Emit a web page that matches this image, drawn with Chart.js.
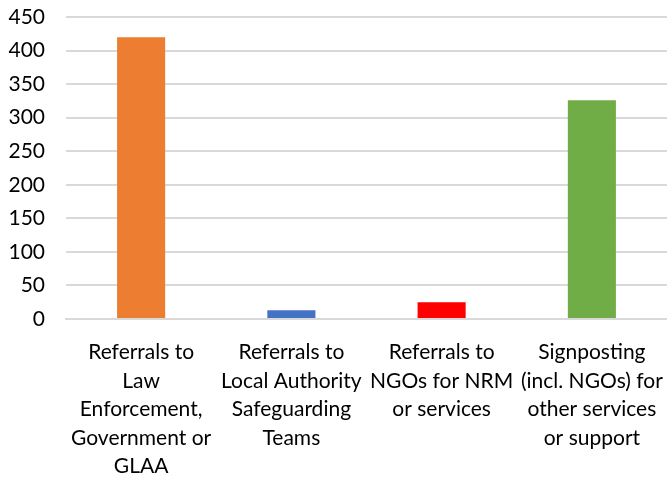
<!DOCTYPE html>
<html>
<head>
<meta charset="utf-8">
<script src="https://cdn.jsdelivr.net/npm/chart.js@4/dist/chart.umd.min.js"></script>
<style>
  html, body { margin: 0; padding: 0; background: #fff; }
  #wrap { width: 667px; height: 479px; }
</style>
</head>
<body>
<div id="wrap"><canvas id="chart"></canvas></div>
<script>
// categories (multi-line labels as shown under each bar)
const categories = [
  ['Referrals to', 'Law', 'Enforcement,', 'Government or', 'GLAA'],
  ['Referrals to', 'Local Authority', 'Safeguarding', 'Teams'],
  ['Referrals to', 'NGOs for NRM', 'or services'],
  ['Signposting', '(incl. NGOs) for', 'other services', 'or support']
];
const referralCounts = [420, 13, 25, 326];
const barColors = ['#ED7D31', '#4472C4', '#FF0000', '#70AD47'];
const yTicks = [0, 50, 100, 150, 200, 250, 300, 350, 400, 450];

const font = "Lato, 'Liberation Sans', sans-serif";

new Chart(document.getElementById('chart').getContext('2d'), {
  type: 'bar',
  data: {
    labels: categories,
    datasets: [{
      label: 'Referrals',
      data: referralCounts,
      backgroundColor: barColors,
      categoryPercentage: 1,
      barPercentage: 0.32
    }]
  },
  options: {
    responsive: true,
    maintainAspectRatio: false,
    animation: false,
    layout: { padding: { top: 17, right: 0, left: 5, bottom: 0 } },
    plugins: {
      legend: { display: false },
      tooltip: { enabled: false }
    },
    scales: {
      x: {
        grid: { display: false },
        border: { color: '#d9d9d9', width: 2 },
        afterFit: (axis) => {
          axis.height = 160;
          axis.paddingLeft = 0;
          axis.paddingRight = 0;
        },
        ticks: {
          autoSkip: false,
          maxRotation: 0,
          color: '#000',
          padding: 11,
          font: { family: font, size: 21, lineHeight: 1.36 }
        }
      },
      y: {
        min: 0,
        max: 450,
        afterBuildTicks: (axis) => { axis.ticks = yTicks.map(v => ({ value: v })); },
        afterFit: (axis) => {
          axis.width = 61;
          axis.paddingTop = 0;
          axis.paddingBottom = 0;
        },
        grid: { color: '#d9d9d9', lineWidth: 2, drawTicks: false },
        border: { display: false },
        ticks: {
          color: '#000',
          padding: 21,
          font: { family: font, size: 21 }
        }
      }
    }
  }
});
</script>
</body>
</html>
